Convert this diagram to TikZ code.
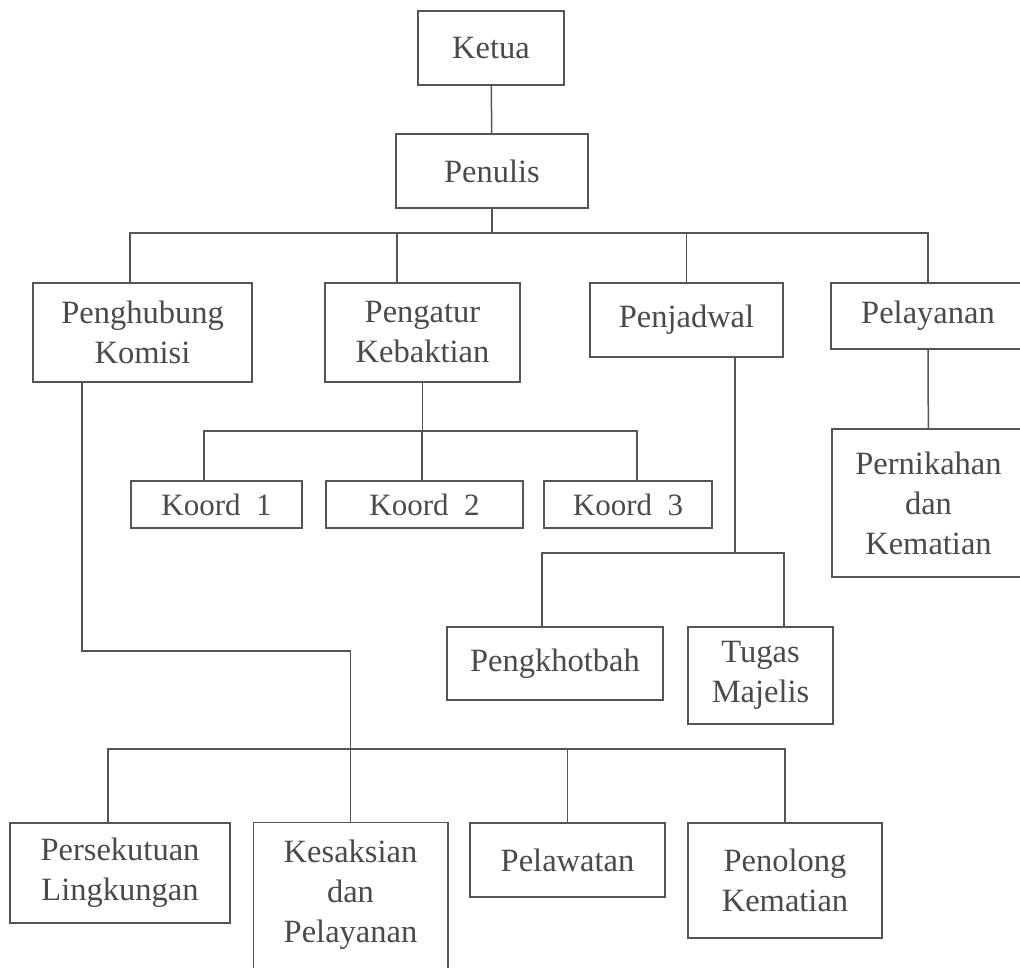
\documentclass[tikz,border=0pt]{standalone}
\usepackage{fontspec}
\setmainfont{Liberation Serif}

\definecolor{linegray}{HTML}{555555}
\definecolor{textgray}{HTML}{4A4A4A}

\begin{document}
\begin{tikzpicture}[x=1pt, y=-1pt,
  box/.style 2 args={draw=linegray, line width=1.5pt, text=textgray, align=center,
    inner sep=0pt, minimum width=#1, minimum height=#2,
    font=\fontsize{32.5}{40}\selectfont},
  link/.style={draw=linegray, line width=1.5pt}]

  \useasboundingbox (0,0) rectangle (1020,968);

  \node[box={146pt}{74pt}] (ketua) at (491,48) {Ketua};
  \node[box={192pt}{74pt}] (penulis) at (492,171) {Penulis};

  \node[box={219pt}{99pt}] (penghubung) at (142.5,332.5) {Penghubung\\Komisi};
  \node[box={195pt}{99pt}] (pengatur) at (422.5,332.5) {Pengatur\\Kebaktian};
  \node[box={193pt}{74pt}] (penjadwal) at (686.5,320) {Penjadwal};
  \node[box={194pt}{66pt}] (pelayanan) at (928,316) {Pelayanan};

  \node[box={193pt}{148pt}] (pernikahan) at (928.5,503) {Pernikahan\\dan\\Kematian};

  \node[box={171pt}{47pt}, font=\fontsize{31}{38}\selectfont] (koord1) at (216.5,504.5) {Koord\ \ 1};
  \node[box={197pt}{47pt}, font=\fontsize{31}{38}\selectfont] (koord2) at (424.5,504.5) {Koord\ \ 2};
  \node[box={168pt}{47pt}, font=\fontsize{31}{38}\selectfont] (koord3) at (628,504.5) {Koord\ \ 3};

  \node[box={216pt}{73pt}] (pengkhotbah) at (555,663.5) {Pengkhotbah};
  \node[box={145pt}{97pt}] (tugas) at (760.5,675.5) {Tugas\\Majelis};

  \node[box={220pt}{100pt}] (persekutuan) at (120,873) {Persekutuan\\Lingkungan};
  \node[box={193pt}{144pt}, draw=none] (kesaksian) at (350.5,895) {Kesaksian\\dan\\Pelayanan};
  \node[box={195pt}{74pt}] (pelawatan) at (567.5,860) {Pelawatan};
  \node[box={194pt}{115pt}] (penolong) at (785,880.5) {Penolong\\Kematian};

  \draw[link] ([yshift=-2pt]kesaksian.south west) -- (kesaksian.north west)
    -- (kesaksian.north east) -- ([yshift=-2pt]kesaksian.south east);

  \coordinate (bus) at (492,233);
  \coordinate (kbus) at (422,431);
  \coordinate (jbus) at (735,553);
  \coordinate (bend) at (0,651);
  \coordinate (bbus) at (0,749);

  \draw[link] (ketua) -- (penulis);

  \draw[link] (penulis) -- (bus);
  \draw[link] ([xshift=-12.5pt]penghubung.north) |- (pelayanan.north |- bus) -- (pelayanan.north);
  \draw[link] ([xshift=-25.5pt]pengatur.north) -- ([xshift=-25.5pt]pengatur.north |- bus);
  \draw[link] (penjadwal.north) -- (penjadwal.north |- bus);

  \draw[link] (pelayanan) -- (pernikahan);

  \draw[link] (pengatur.south) -- (pengatur.south |- kbus);
  \draw[link] ([xshift=-12.5pt]koord1.north) |- ([xshift=9pt]koord3.north |- kbus) -- ([xshift=9pt]koord3.north);
  \draw[link] ([xshift=-2.5pt]koord2.north) -- ([xshift=-2.5pt]koord2.north |- kbus);

  \draw[link] ([xshift=48.5pt]penjadwal.south) -- ([xshift=48.5pt]penjadwal.south |- jbus);
  \draw[link] ([xshift=-13pt]pengkhotbah.north) |- ([xshift=23.5pt]tugas.north |- jbus) -- ([xshift=23.5pt]tugas.north);

  \draw[link] ([xshift=-60.5pt]penghubung.south) |- (kesaksian.north |- bend) -- (kesaksian.north);

  \draw[link] ([xshift=-12pt]persekutuan.north) |- (penolong.north |- bbus) -- (penolong.north);
  \draw[link] (pelawatan.north) -- (pelawatan.north |- bbus);

\end{tikzpicture}
\end{document}
